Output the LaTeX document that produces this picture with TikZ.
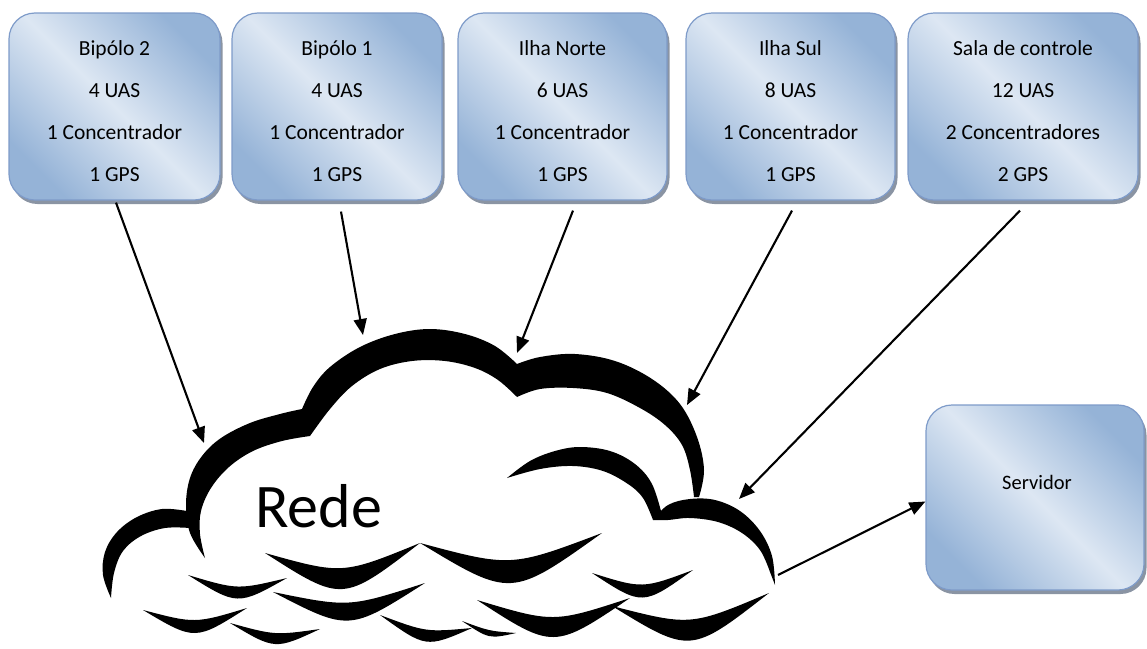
\documentclass[tikz,border=0pt]{standalone}
\usepackage{fontspec}
\setmainfont{Carlito}
\usetikzlibrary{arrows.meta,shadows,calc}

\definecolor{boxdark}{RGB}{149,179,215}
\definecolor{boxlight}{RGB}{221,231,243}
\definecolor{boxedge}{RGB}{126,155,201}
\definecolor{boxshade}{RGB}{138,148,163}

\tikzset{
  site/.style={rectangle, rounded corners=26pt, draw=boxedge, line width=1.2pt,
    top color=boxdark, bottom color=boxdark, middle color=boxlight, shading angle=-45,
    drop shadow={shadow xshift=2.5pt, shadow yshift=-4pt, fill=boxshade, opacity=1},
    inner sep=0pt},
  sitetext/.style={align=center, font=\fontsize{21.5}{42}\selectfont, inner sep=0pt},
  link/.style={line width=2.1pt, -{Triangle[length=16pt,width=13pt]}},
  ink/.style={fill=black},
}

% a black crescent hanging between two points: outer and inner sag
\newcommand\smilepiece[6]{%
  \fill[ink] (#1,#2) .. controls ($(#1,#2)!.5!(#3,#4)+(0,{4*#5/3})$) .. (#3,#4)
    .. controls ($(#1,#2)!.5!(#3,#4)+(0,{4*#6/3})$) .. (#1,#2) -- cycle;}

\begin{document}
\begin{tikzpicture}[x=1pt,y=-1pt]
\useasboundingbox (0,0) rectangle (1147,648);

% ---------- cloud ----------
% main outline: outer edge left/top/right, then inner edge back
\fill[ink]
  plot[smooth, tension=0.6] coordinates {(205,558) (190,533) (186,505) (190,478) (202,456) (221,438) (250,423) (280,414) (302,409)}
  -- plot[smooth, tension=0.6] coordinates {(302,409) (313,387) (330,367) (360,347) (395,334) (430,329) (465,334) (495,346) (517,364)}
  -- plot[smooth, tension=0.6] coordinates {(517,364) (540,357) (575,354) (615,361) (652,379) (680,404) (697,437) (704,470) (699,497)}
  -- plot[smooth, tension=0.6] coordinates {(694,497) (690,470) (682,445) (665,425) (640,408) (607,393) (573,388) (540,389) (517,397)}
  -- plot[smooth, tension=0.6] coordinates {(517,397) (498,380) (475,368) (445,361) (412,361) (380,369) (352,386) (330,409) (310,436)}
  -- plot[smooth, tension=0.6] coordinates {(310,436) (282,441) (253,451) (229,467) (211,488) (201,511) (200,534) (205,558)}
  -- cycle;
% small lobe on the far left
\fill[ink]
  plot[smooth, tension=0.6] coordinates {(111,598) (103,575) (105,552) (117,532) (137,517) (162,509) (187,511)}
  -- plot[smooth, tension=0.6] coordinates {(190,528) (165,528) (141,536) (123,551) (114,573) (111,598)}
  -- cycle;
% inner arc on the right
\fill[ink]
  plot[smooth, tension=0.6] coordinates {(507,478) (530,461) (555,451) (580,447) (610,451) (635,464) (652,484) (662,515)}
  -- plot[smooth, tension=0.6] coordinates {(653,520) (643,498) (628,484) (603,471) (573,466) (540,469) (507,478)}
  -- cycle;
% small lobe on the right
\fill[ink]
  plot[smooth, tension=0.6] coordinates {(653,520) (668,505) (690,499) (715,500) (740,511) (760,531) (772,556) (775,585)}
  -- plot[smooth, tension=0.6] coordinates {(770,572) (760,550) (742,533) (718,522) (690,518) (668,520) (653,520)}
  -- cycle;
% hanging arcs along the bottom
\smilepiece{265}{553}{420}{543}{41}{20}
\smilepiece{420}{543}{602}{533}{45}{22}
\smilepiece{188}{575}{287}{578}{22}{10}
\smilepiece{273}{592}{425}{583}{33}{15}
\smilepiece{143}{610}{247}{608}{24}{11}
\smilepiece{230}{623}{320}{629}{18}{7}
\smilepiece{380}{615}{472}{628}{20}{8}
\smilepiece{462}{621}{516}{633}{9}{3}
\smilepiece{477}{600}{630}{598}{38}{18}
\smilepiece{592}{573}{693}{570}{26}{13}
\smilepiece{612}{606}{769}{593}{41}{20}

\node[anchor=base, inner sep=0pt, font=\fontsize{62}{62}\selectfont] (rede) at (318.5,527) {Rede};

% points where the links meet the cloud
\coordinate (in1) at (204,443);
\coordinate (in2) at (363,335);
\coordinate (in3) at (517,353);
\coordinate (in4) at (687,405);
\coordinate (in5) at (739,499);
\coordinate (out) at (778,575);

% ---------- sites ----------
\node[site, minimum width=211pt, minimum height=187pt] (b1) at (114.5,106.5) {};
\node[site, minimum width=210pt, minimum height=187pt] (b2) at (337,106.5) {};
\node[site, minimum width=209pt, minimum height=187pt] (b3) at (562.5,106.5) {};
\node[site, minimum width=209pt, minimum height=187pt] (b4) at (790.5,106.5) {};
\node[site, minimum width=230pt, minimum height=187pt] (b5) at (1023,106.5) {};
\node[site, minimum width=218pt, minimum height=185pt] (srv) at (1035,497.5) {};

\node[sitetext] (t1) at ([yshift=-4.5pt]b1.center) {Bipólo 2\\4 UAS\\1 Concentrador\\1 GPS};
\node[sitetext] (t2) at ([yshift=-4.5pt]b2.center) {Bipólo 1\\4 UAS\\1 Concentrador\\1 GPS};
\node[sitetext] (t3) at ([yshift=-4.5pt]b3.center) {Ilha Norte\\6 UAS\\1 Concentrador\\1 GPS};
\node[sitetext] (t4) at ([yshift=-4.5pt]b4.center) {Ilha Sul\\8 UAS\\1 Concentrador\\1 GPS};
\node[sitetext] (t5) at ([yshift=-4.5pt]b5.center) {Sala de controle\\12 UAS\\2 Concentradores\\2 GPS};
\node[inner sep=0pt, font=\fontsize{20.5}{24}\selectfont] (t6) at ([xshift=2pt,yshift=15pt]srv.center) {Servidor};

% ---------- links ----------
\draw[link] ([xshift=1.5pt,yshift=-2pt]b1.south) -- (in1);
\draw[link] ([xshift=4pt,yshift=-11pt]b2.south) -- (in2);
\draw[link] ([xshift=10.5pt,yshift=-10pt]b3.south) -- (in3);
\draw[link] ([xshift=1.5pt,yshift=-10pt]b4.south) -- (in4);
\draw[link] ([xshift=-3pt,yshift=-10pt]b5.south) -- (in5);
\draw[link] (out) -- ([yshift=-4pt]srv.west);
\end{tikzpicture}
\end{document}
